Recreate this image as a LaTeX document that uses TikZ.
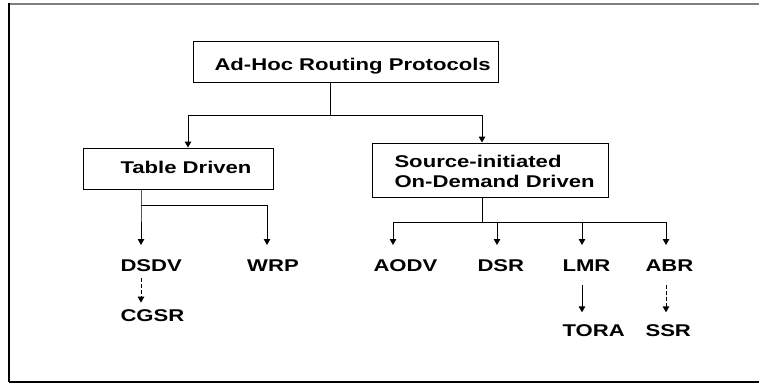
\documentclass[tikz,border=0pt]{standalone}
\usepackage{fontspec}
\setmainfont[FakeStretch=1.3]{Liberation Sans}
\usetikzlibrary{arrows.meta}
\begin{document}
\begin{tikzpicture}[x=1pt,y=-1pt,line width=1pt,
  lbl/.style={font=\bfseries\fontsize{17}{20}\selectfont, inner sep=0pt, anchor=base west},
  boxnode/.style={draw, line width=1pt, inner sep=0pt},
  arr/.style={-{Triangle[width=6.5pt,length=6pt]}},
  darr/.style={arr, dash pattern=on 3.5pt off 2.5pt},
]
\useasboundingbox (0,0) rectangle (759,383);
% frame
\draw[line width=2pt, color=gray] (9,3.5) -- (759,3.5);
\draw[line width=1.3pt] (9,3) -- (9,382);
\draw[line width=1.5pt] (9,382) -- (759,382);
% boxes
\node[boxnode, minimum width=305pt, minimum height=41pt] (top) at (345.5,61.5) {};
\node[boxnode, minimum width=190pt, minimum height=41pt] (table) at (178,168.5) {};
\node[boxnode, minimum width=236pt, minimum height=54pt] (src) at (490,170) {};
% box texts
\node[lbl] (tTop) at (214,70) {Ad-Hoc Routing Protocols};
\node[lbl] (tTable) at (120,173.3) {Table Driven};
\node[lbl] (tSrcA) at (394,167.7) {Source-initiated};
\node[lbl] (tSrcB) at (394,187.7) {On-Demand Driven};
% leaves
\node[lbl] (dsdv) at (120,271.7) {DSDV};
\node[lbl] (wrp) at (246.7,271.7) {WRP};
\node[lbl] (cgsr) at (120,321) {CGSR};
\node[lbl] (aodv) at (373,271.7) {AODV};
\node[lbl] (dsr) at (477,271.7) {DSR};
\node[lbl] (lmr) at (562,271.7) {LMR};
\node[lbl] (abr) at (645,271.7) {ABR};
\node[lbl] (tora) at (562,336.7) {TORA};
\node[lbl] (ssr) at (645,336.7) {SSR};
% coordinates
\coordinate (lvl) at (0,245);
\coordinate (j0) at (330,115);
\coordinate (aT) at (188,115);
\coordinate (aS) at (482,115);
\coordinate (j1) at (141,205);
\coordinate (k1) at (267,205);
\coordinate (j2) at (482,222);
\coordinate (b1) at (393,222);
\coordinate (b2) at (497,222);
\coordinate (b3) at (582,222);
\coordinate (b4) at (666,222);
% top level
\draw (top.south -| j0) -- (j0);
\draw[arr] (j0) -- (aT) -- (aT |- table.north);
\draw[arr] (j0) -- (aS) -- (aS |- src.north);
% table driven
\draw[arr] (table.south -| j1) -- (j1) -- (j1 |- lvl);
\draw[arr] (j1) -- (k1) -- (k1 |- lvl);
% source initiated
\draw (src.south -| j2) -- (j2);
\draw (b1) -- (b4);
\draw[arr] (b1) -- (b1 |- lvl);
\draw[arr] (b2) -- (b2 |- lvl);
\draw[arr] (b3) -- (b3 |- lvl);
\draw[arr] (b4) -- (b4 |- lvl);
% sub arrows
\draw[darr, shorten <=6pt, shorten >=6pt] (dsdv.south -| j1) -- (cgsr.north -| j1);
\draw[arr, shorten <=13pt, shorten >=12pt] (lmr.south -| b3) -- (tora.north -| b3);
\draw[darr, shorten <=13pt, shorten >=12pt] (abr.south -| b4) -- (ssr.north -| b4);
\end{tikzpicture}
\end{document}
